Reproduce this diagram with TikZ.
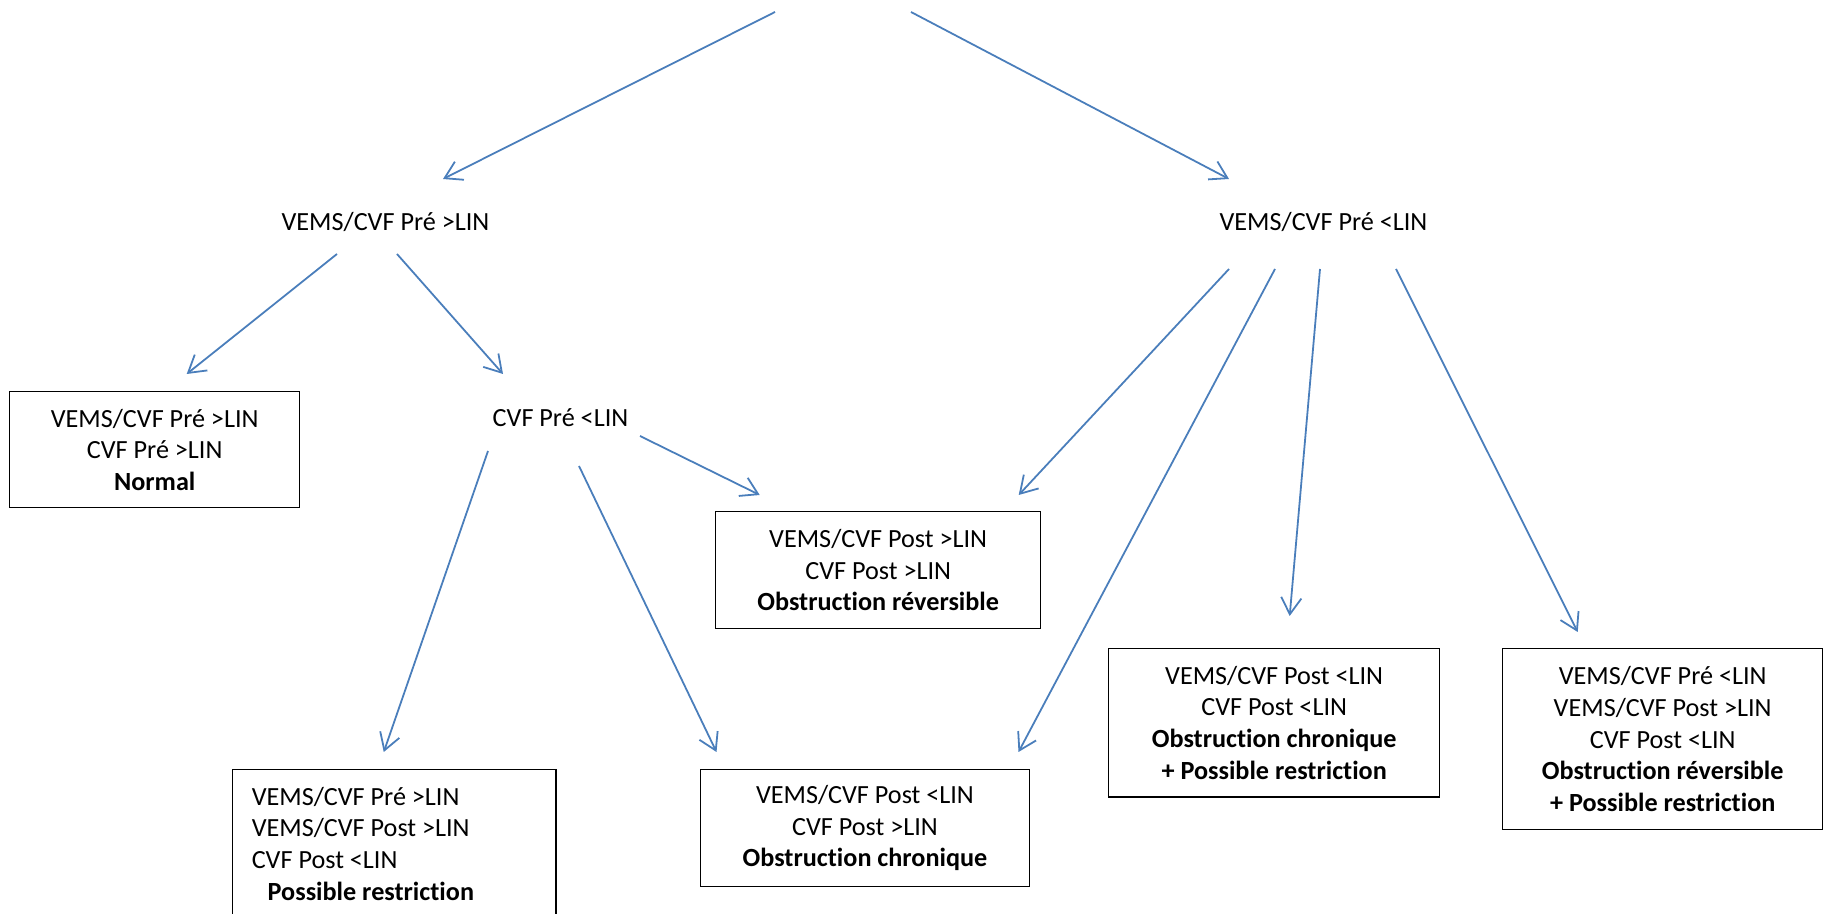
\documentclass[tikz,border=0pt]{standalone}
\usepackage{fontspec}
\setmainfont[Ligatures={NoCommon}]{Carlito}
\usepackage{tikz}
\usetikzlibrary{arrows, arrows.meta}
\usetikzlibrary{calc}
\usepackage{xcolor}
\definecolor{arrowblue}{RGB}{74,126,187}

\begin{document}
\begin{tikzpicture}[x=0.42pt, y=-0.42pt,
  txt/.style={font=\fontsize{11}{13.3}\selectfont, inner sep=0pt},
  resbox/.style={txt, draw=black, line width=0.6pt, align=center, anchor=north west},
  arr/.style={-{Straight Barb[length=7pt, width=8.5pt]}, line width=0.75pt, color=arrowblue}]

\useasboundingbox (0,0) rectangle (1823,914);

%labels
\node [txt] (l1) at (385.5,222) {VEMS/CVF Pré >LIN};
\node [txt] (l2) at (1323.5,222) {VEMS/CVF Pré <LIN};
\node [txt] (cvf) at (560.5,418) {CVF Pré <LIN};

%boxes
\node [resbox, minimum width=121.8pt, minimum height=48.7pt] (normal) at (9,391)
  {VEMS/CVF Pré >LIN\\CVF Pré >LIN\\\textbf{Normal}};
\node [resbox, minimum width=136.5pt, minimum height=49.1pt] (rev) at (715,511)
  {VEMS/CVF Post >LIN\\CVF Post >LIN\\\textbf{Obstruction réversible}};
\node [resbox, minimum width=139pt, minimum height=62.2pt] (chrres) at (1108,648)
  {VEMS/CVF Post <LIN\\CVF Post <LIN\\\textbf{Obstruction chronique}\\\textbf{+ Possible restriction}};
\node [resbox, minimum width=134.4pt, minimum height=76pt] (far) at (1502,648)
  {VEMS/CVF Pré <LIN\\VEMS/CVF Post >LIN\\CVF Post <LIN\\\textbf{Obstruction réversible}\\\textbf{+ Possible restriction}};
\node [resbox, align=flush left, inner xsep=8pt, text width=119.7pt, minimum height=62.2pt] (poss) at (232,769)
  {VEMS/CVF Pré >LIN\\VEMS/CVF Post >LIN\\CVF Post <LIN\\\hspace*{6.7pt}\textbf{Possible restriction}};
\node [resbox, minimum width=138pt, minimum height=49pt] (chron) at (700,769)
  {VEMS/CVF Post <LIN\\CVF Post >LIN\\\textbf{Obstruction chronique}};

%arrows
\coordinate (rootL) at (775,12);
\coordinate (rootR) at (911,12);
\draw [arr] (rootL) -- ($(l1)+(57.5,-43)$);
\draw [arr] (rootR) -- ($(l2)+(-94.5,-43)$);

\draw [arr] ($(l1)+(-48.5,32)$) -- ($(normal.north)+(32,-17)$);
\draw [arr] ($(l1)+(11.5,32)$) -- ($(cvf)+(-57.5,-44)$);

\draw [arr] ($(cvf)+(-72.5,33)$) -- ($(poss.north)+(-10.5,-17)$);
\draw [arr] ($(cvf)+(18.5,48)$) -- ($(chron.north)+(-148.5,-17)$);
\draw [arr] ($(cvf)+(79.5,18)$) -- ($(rev.north)+(-118.5,-16)$);

\draw [arr] ($(l2)+(-94.5,47)$) -- ($(rev.north)+(140.5,-16)$);
\draw [arr] ($(l2)+(-48.5,47)$) -- ($(chron.north)+(153.5,-17)$);
\draw [arr] ($(l2)+(-3.5,47)$) -- ($(chrres.north)+(15.5,-32)$);
\draw [arr] ($(l2)+(72.5,47)$) -- ($(far.north)+(-85,-16)$);

\end{tikzpicture}
\end{document}
